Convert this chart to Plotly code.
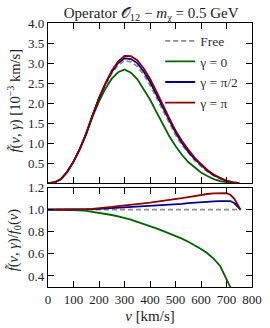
import plotly.graph_objects as go

# ---- data ----
v_top = [0, 25, 50, 75, 100, 125, 150, 175, 200, 225, 250, 275, 300, 325, 350, 375,
         400, 425, 450, 475, 500, 525, 550, 575, 600, 625, 650, 675, 700, 725, 750]
f_free = [0, 0.02, 0.10, 0.28, 0.54, 0.86, 1.24, 1.70, 2.10, 2.45, 2.74, 2.95, 3.06, 3.03,
          2.92, 2.71, 2.45, 2.14, 1.81, 1.50, 1.21, 0.96, 0.75, 0.57, 0.42, 0.29, 0.19,
          0.11, 0.055, 0.02, 0.003]
f_g0 = [0, 0.02, 0.10, 0.28, 0.54, 0.86, 1.23, 1.67, 2.04, 2.36, 2.61, 2.77, 2.84, 2.76,
        2.60, 2.36, 2.09, 1.78, 1.46, 1.18, 0.93, 0.71, 0.53, 0.39, 0.27, 0.18, 0.105,
        0.054, 0.021, 0.005, 0.0]
f_gpi2 = [0, 0.02, 0.10, 0.28, 0.54, 0.86, 1.24, 1.71, 2.12, 2.48, 2.78, 3.00, 3.12, 3.10,
          3.00, 2.79, 2.53, 2.22, 1.88, 1.57, 1.27, 1.01, 0.79, 0.61, 0.45, 0.31, 0.20,
          0.12, 0.059, 0.021, 0.003]
f_gpi = [0, 0.02, 0.10, 0.28, 0.54, 0.86, 1.25, 1.71, 2.13, 2.49, 2.81, 3.04, 3.18, 3.17,
         3.07, 2.87, 2.61, 2.29, 1.95, 1.63, 1.32, 1.06, 0.84, 0.64, 0.48, 0.33, 0.22,
         0.13, 0.063, 0.022, 0.003]

v_ratio = [0, 25, 50, 75, 100, 125, 150, 175, 200, 225, 250, 275, 300, 325, 350, 375,
           400, 425, 450, 475, 500, 525, 550, 575, 600, 625, 650, 675, 700, 715, 730, 755]
r_free = [1.0] * len(v_ratio)
r_g0 = [1.0, 1.0, 1.0, 1.0, 0.998, 0.995, 0.99, 0.982, 0.973, 0.963, 0.952, 0.94, 0.927,
        0.91, 0.89, 0.872, 0.852, 0.83, 0.808, 0.785, 0.766, 0.738, 0.71, 0.68, 0.645,
        0.605, 0.555, 0.49, 0.38, 0.30, 0.20, 0.10]
r_gpi2 = [1.0, 1.0, 1.0, 1.0, 1.0, 1.001, 1.002, 1.005, 1.008, 1.011, 1.014, 1.017, 1.02,
          1.023, 1.026, 1.029, 1.032, 1.036, 1.04, 1.044, 1.048, 1.053, 1.059, 1.064,
          1.07, 1.073, 1.076, 1.078, 1.08, 1.078, 1.06, 1.0]
r_gpi = [1.0, 1.0, 1.0, 1.0, 1.0, 1.002, 1.005, 1.008, 1.012, 1.018, 1.025, 1.032, 1.04,
         1.046, 1.052, 1.058, 1.064, 1.071, 1.078, 1.085, 1.094, 1.104, 1.114, 1.125,
         1.136, 1.142, 1.147, 1.15, 1.15, 1.135, 1.10, 1.0]

labels = ["Free", "γ = 0", "γ = π/2", "γ = π"]
colors = ["#8c8c8c", "#006400", "#00008b", "#8b0000"]

x_ticks = [0, 100, 200, 300, 400, 500, 600, 700, 800]
y_top_ticks = [0.5, 1.0, 1.5, 2.0, 2.5, 3.0, 3.5, 4.0]
y_bot_ticks = [0.4, 0.6, 0.8, 1.0, 1.2]

FONT = "Liberation Serif, DejaVu Serif, serif"
TXT = "#222"

fig = go.Figure()
tops = [f_free, f_g0, f_gpi2, f_gpi]
rats = [r_free, r_g0, r_gpi2, r_gpi]
for i in range(4):
    dash = "5px,3px" if i == 0 else "solid"
    fig.add_trace(go.Scatter(x=v_top, y=tops[i], mode="lines", name=labels[i],
                             line=dict(color=colors[i], width=1.8, dash=dash),
                             xaxis="x", yaxis="y", legendgroup=str(i)))
for i in range(4):
    dash = "5px,3px" if i == 0 else "solid"
    fig.add_trace(go.Scatter(x=v_ratio, y=rats[i], mode="lines", name=labels[i],
                             line=dict(color=colors[i], width=1.8, dash=dash),
                             xaxis="x2", yaxis="y2", showlegend=False, legendgroup=str(i)))

axcommon = dict(showline=True, linecolor="black", linewidth=1.3, mirror="ticks",
                ticks="inside", ticklen=6, tickwidth=1, tickcolor="black",
                showgrid=False, zeroline=False, automargin=False,
                tickfont=dict(family=FONT, size=13, color=TXT))

fig.update_layout(
    width=270, height=328,
    margin=dict(l=48, r=18, t=23, b=41),
    paper_bgcolor="white", plot_bgcolor="white",
    font=dict(family=FONT, size=13, color=TXT),
    title=dict(text="Operator 𝒪<sub>12</sub> − <i>m</i><sub>χ</sub> = 0.5 GeV",
               x=0.56, xanchor="center", y=0.962, yanchor="middle",
               font=dict(family=FONT, size=15, color=TXT)),
    xaxis=dict(domain=[0, 1], anchor="y", range=[0, 800], tickvals=x_ticks,
               showticklabels=False, **axcommon),
    yaxis=dict(domain=[0.393, 1], anchor="x", range=[0, 4], tickvals=y_top_ticks,
               ticktext=[f"{t:.1f}" for t in y_top_ticks], **axcommon),
    xaxis2=dict(domain=[0, 1], anchor="y2", range=[0, 800], tickvals=x_ticks,
                title=dict(text="<i>v</i> [km/s]", standoff=4,
                           font=dict(family=FONT, size=15, color=TXT)),
                **axcommon),
    yaxis2=dict(domain=[0, 0.3765], anchor="x2", range=[0.3, 1.2], tickvals=y_bot_ticks,
                ticktext=[f"{t:.1f}" for t in y_bot_ticks], **axcommon),
    legend=dict(x=0.55, y=0.99, xanchor="left", yanchor="top",
                bgcolor="rgba(0,0,0,0)", borderwidth=0,
                font=dict(family=FONT, size=13.5, color="#333"),
                tracegroupgap=0, itemwidth=30),
    showlegend=True,
)

# y-axis titles as rotated annotations (positioned like the reference)
fig.add_annotation(text="<i>f̃</i>(<i>v</i>, <i>γ</i>) [10<sup>−3</sup> km/s]",
                   xref="paper", yref="paper", x=-0.165, y=0.708,
                   xanchor="center", yanchor="middle", textangle=-90, showarrow=False,
                   font=dict(family=FONT, size=14.5, color=TXT))
fig.add_annotation(text="<i>f̃</i>(<i>v</i>, <i>γ</i>)/<i>f</i><sub>0</sub>(<i>v</i>)",
                   xref="paper", yref="paper", x=-0.165, y=0.178,
                   xanchor="center", yanchor="middle", textangle=-90, showarrow=False,
                   font=dict(family=FONT, size=14.5, color=TXT))

fig.write_html("out.html", config={"displayModeBar": False},
               post_script="document.body.style.margin='0';document.body.style.padding='0';")
